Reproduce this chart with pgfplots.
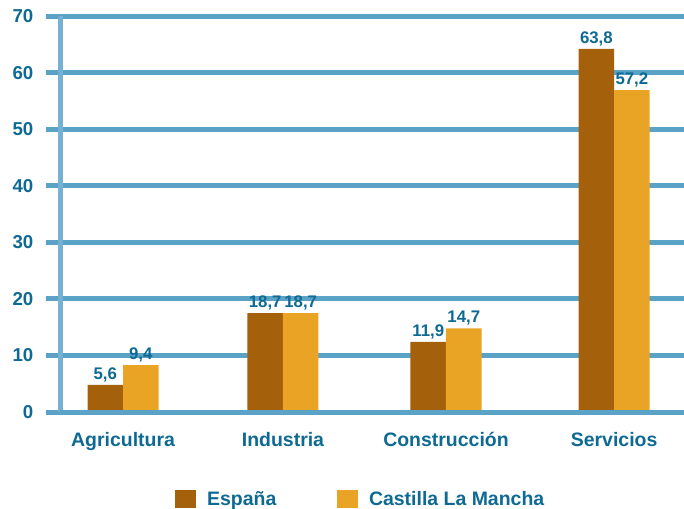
\documentclass[border=0pt]{standalone}
\usepackage{pgfplots}
\pgfplotsset{compat=1.18}
\usepackage{pgfplotstable}
\usepackage{fontspec}
\setmainfont{Liberation Sans}
\definecolor{espcol}{HTML}{A5600B}
\definecolor{cascol}{HTML}{E9A425}
\definecolor{gridcol}{HTML}{5AA3C7}
\definecolor{axcol}{HTML}{74B1D2}
\definecolor{txtcol}{HTML}{0E6A93}

% bar heights as drawn, labels as printed
\pgfplotstableread{
x esp esplab cas caslab
0     4.8  {5,6}  8.3  {9,4}
0.977 17.5 {18,7} 17.5 {18,7}
1.973 12.4 {11,9} 14.8 {14,7}
3     64.2 {63,8} 56.9 {57,2}
}\datatable

\begin{document}
\begin{tikzpicture}[font=\bfseries]
\useasboundingbox (-45pt,-72pt) rectangle (468pt,309pt);
\begin{axis}[
  at={(0,0)}, anchor=south west,
  scale only axis, width=468pt, height=297pt,
  ybar=0pt, bar width=0.217,
  xmin=-0.385, xmax=3.427, ymin=0, ymax=70,
  xtick=data, xticklabels={Agricultura,Industria,Construcción,Servicios},
  ytick={0,10,...,70},
  ymajorgrids, major grid style={draw=gridcol, line width=3.75pt},
  axis x line*=bottom, axis y line*=left,
  x axis line style={draw=none},
  y axis line style={draw=axcol, line width=3.75pt, -},
  xtick style={draw=none},
  ytick style={draw=gridcol, line width=3.75pt},
  tick align=outside, major tick length=10.5pt,
  /pgf/number format/assume math mode=true,
  yticklabel style={font=\fontsize{14}{16}\selectfont\bfseries, text=txtcol, xshift=-6pt},
  xticklabel style={font=\fontsize{14.6}{17}\selectfont\bfseries, text=txtcol, yshift=-1pt},
  point meta=explicit symbolic,
  nodes near coords,
  nodes near coords style={font=\fontsize{12.6}{15}\selectfont\bfseries, text=txtcol, inner sep=2pt},
  legend columns=2,
  legend style={at={(0.184,-0.22)}, anchor=west, draw=none, fill=none, inner sep=0pt,
    font=\fontsize{14.6}{17}\selectfont\bfseries, text=txtcol,
    /tikz/every even column/.append style={column sep=43.5pt}},
  legend image code/.code={\fill[#1] (0pt,-6.75pt) rectangle (15.5pt,6.75pt); \path (22pt,0pt);},
]
\addplot[draw=none, fill=espcol] table[x=x, y=esp, meta=esplab] {\datatable};
\addplot[draw=none, fill=cascol] table[x=x, y=cas, meta=caslab] {\datatable};
\draw[gridcol, line width=3.75pt] (rel axis cs:0,0) -- (rel axis cs:1,0);
\legend{España, Castilla La Mancha}
\end{axis}
\end{tikzpicture}
\end{document}
